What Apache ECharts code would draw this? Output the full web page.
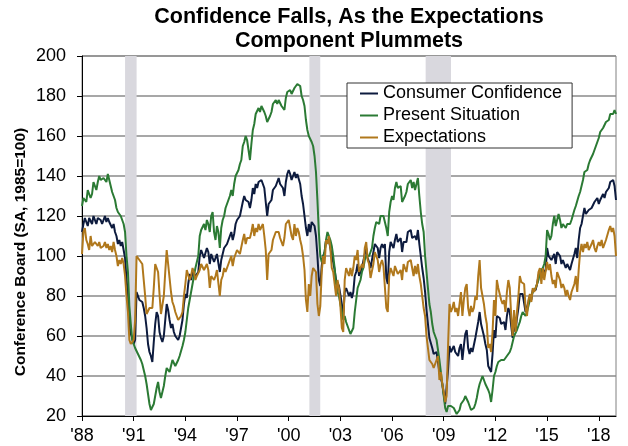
<!DOCTYPE html>
<html>
<head>
<meta charset="utf-8">
<script src="https://cdn.jsdelivr.net/npm/echarts@6/dist/echarts.min.js"></script>
<style>
  html, body { margin: 0; padding: 0; background: #fff; }
  #chart { width: 628px; height: 446px; }
</style>
</head>
<body>
<div id="chart"></div>
<script>
"use strict";

// Monthly Conference Board indexes, Jan 1988 .. Jan 2019 (SA, 1985=100)
const startYear = 1988;
const tickYears = [1988, 1991, 1994, 1997, 2000, 2003, 2006, 2009, 2012, 2015, 2018];
const recessions = [[1990.5, 1991.17], [2001.2, 2001.83], [2007.95, 2009.42]];
const seriesNames = ["Consumer Confidence", "Present Situation", "Expectations"];

const consumerConfidence = [
  112, 116, 119, 120, 115, 119, 118, 116, 120, 118, 116, 119, // 1988
  120, 118, 116, 118, 120, 117, 119, 117, 116, 114, 116, 112, // 1989
  110, 106, 108, 105, 107, 103, 99, 88, 82, 65, 61, 59,       // 1990
  56, 58, 82, 80, 78, 79, 77, 74, 70, 64, 56, 52,             // 1991
  50, 47, 57, 66, 72, 70, 62, 59, 57, 60, 68, 76,             // 1992
  73, 68, 64, 66, 62, 60, 59, 58, 60, 61, 68, 76,             // 1993
  81, 79, 86, 91, 88, 92, 92, 90, 91, 92, 100, 103,           // 1994
  101, 99, 100, 104, 102, 96, 101, 102, 97, 96, 101, 100,     // 1995
  92, 98, 98, 104, 103, 106, 108, 110, 112, 108, 111, 116,    // 1996
  118, 119, 120, 121, 127, 130, 128, 128, 127, 124, 128, 134, // 1997
  131, 136, 134, 137, 136, 138, 137, 134, 127, 120, 126, 127, // 1998
  128, 133, 134, 135, 137, 139, 136, 136, 134, 130, 137, 141, // 1999
  143, 141, 138, 140, 142, 139, 141, 140, 136, 130, 126, 120, // 2000
  114, 110, 116, 112, 117, 118, 115, 110, 100, 88, 85, 95,    // 2001
  100, 102, 108, 107, 108, 104, 100, 97, 93, 88, 88, 85,      // 2002
  84, 76, 70, 82, 84, 84, 80, 82, 79, 82, 90, 92,             // 2003
  96, 90, 90, 94, 94, 101, 104, 99, 97, 94, 94, 102,          // 2004
  106, 105, 104, 99, 104, 106, 104, 106, 89, 86, 102, 107,    // 2005
  108, 104, 108, 111, 107, 107, 109, 102, 107, 107, 107, 112, // 2006
  111, 113, 109, 108, 110, 108, 113, 106, 100, 94, 89, 82,    // 2007
  73, 66, 59, 58, 54, 51, 52, 52, 53, 42, 42, 36,             // 2008
  31, 26, 27, 43, 55, 52, 53, 55, 52, 52, 50, 54,             // 2009
  56, 48, 55, 61, 63, 54, 51, 54, 52, 53, 59, 58,             // 2010
  67, 72, 66, 67, 60, 56, 53, 45, 46, 42, 51, 63,             // 2011
  59, 70, 69, 69, 66, 65, 67, 63, 70, 74, 72, 65,             // 2012
  59, 68, 62, 69, 74, 81, 81, 81, 80, 72, 71, 77,             // 2013
  80, 78, 83, 82, 83, 86, 90, 93, 89, 94, 91, 93,             // 2014
  104, 100, 101, 98, 98, 101, 96, 102, 102, 100, 96, 98,      // 2015
  97, 94, 96, 95, 93, 96, 96, 101, 104, 99, 108, 114,         // 2016
  116, 120, 124, 121, 120, 123, 122, 124, 125, 127, 128, 129, // 2017
  126, 128, 127, 131, 129, 132, 131, 134, 137, 136, 138, 135, // 2018
  128                                                         // 2019
];

const presentSituation = [
  125, 129, 130, 127, 133, 134, 129, 131, 137, 135, 133, 137, // 1988
  140, 138, 137, 139, 140, 137, 141, 138, 135, 132, 130, 128, // 1989
  124, 122, 123, 120, 119, 116, 112, 100, 92, 75, 66, 58,     // 1990
  56, 54, 53, 51, 50, 48, 46, 43, 40, 36, 31, 26,             // 1991
  23, 22, 26, 30, 34, 37, 32, 29, 32, 35, 40, 44,             // 1992
  43, 42, 45, 48, 47, 45, 46, 48, 50, 51, 55, 58,             // 1993
  62, 68, 74, 78, 82, 86, 90, 94, 97, 100, 110, 113,          // 1994
  114, 116, 113, 118, 116, 112, 120, 122, 112, 108, 115, 112, // 1995
  104, 114, 118, 120, 124, 126, 128, 130, 133, 130, 136, 140, // 1996
  141, 143, 146, 148, 155, 157, 160, 158, 157, 148, 156, 163, // 1997
  166, 171, 170, 174, 172, 175, 174, 172, 170, 167, 168, 170, // 1998
  172, 176, 177, 178, 176, 178, 177, 175, 174, 173, 179, 182, // 1999
  182, 183, 181, 182, 184, 183, 186, 187, 185, 180, 178, 175, // 2000
  168, 163, 160, 160, 157, 155, 150, 142, 128, 112, 100, 97,  // 2001
  98, 102, 108, 112, 111, 108, 105, 100, 94, 86, 82, 80,      // 2002
  80, 72, 68, 70, 67, 65, 63, 61, 60, 64, 72, 78,             // 2003
  84, 86, 88, 92, 94, 98, 100, 101, 100, 102, 104, 110,       // 2004
  114, 117, 118, 116, 120, 121, 120, 121, 114, 110, 122, 127, // 2005
  130, 128, 134, 137, 134, 133, 135, 127, 126, 130, 132, 136, // 2006
  136, 138, 134, 137, 133, 136, 139, 130, 122, 116, 112, 100, // 2007
  92, 84, 76, 72, 66, 62, 60, 58, 57, 48, 42, 36,             // 2008
  30, 24, 22, 25, 26, 25, 24, 24, 23, 21, 21, 23,             // 2009
  26, 25, 28, 30, 29, 27, 25, 23, 23, 24, 26, 29,             // 2010
  33, 36, 38, 40, 38, 36, 37, 33, 31, 27, 33, 40,             // 2011
  42, 45, 47, 47, 48, 47, 48, 48, 50, 51, 52, 54,             // 2012
  57, 60, 61, 63, 65, 67, 70, 72, 72, 70, 72, 75,             // 2013
  78, 80, 82, 83, 84, 86, 88, 92, 93, 94, 96, 100,            // 2014
  113, 111, 108, 110, 116, 120, 115, 118, 121, 118, 114, 116, // 2015
  116, 114, 116, 117, 116, 118, 118, 123, 125, 124, 130, 132, // 2016
  133, 138, 142, 141, 143, 146, 148, 149, 151, 153, 155, 157, // 2017
  159, 162, 161, 164, 163, 167, 166, 168, 171, 172, 171, 173, // 2018
  171                                                         // 2019
];

const expectations = [
  101, 112, 114, 108, 106, 103, 110, 105, 104, 107, 106, 105, // 1988
  107, 104, 103, 105, 107, 104, 106, 103, 105, 102, 107, 103, // 1989
  100, 95, 98, 96, 99, 96, 90, 80, 72, 58, 56, 57,            // 1990
  58, 68, 100, 100, 98, 99, 96, 88, 80, 71, 72, 74,           // 1991
  74, 74, 84, 96, 97, 92, 81, 71, 72, 80, 92, 103,            // 1992
  96, 89, 82, 77, 75, 72, 70, 68, 67, 70, 72, 80,             // 1993
  86, 93, 92, 88, 90, 94, 92, 88, 90, 91, 93, 96,             // 1994
  95, 93, 92, 96, 93, 84, 90, 90, 88, 90, 93, 92,             // 1995
  80, 88, 90, 94, 92, 92, 96, 97, 100, 95, 99, 100,           // 1996
  103, 102, 101, 102, 108, 111, 106, 109, 110, 109, 112, 116, // 1997
  110, 114, 112, 116, 113, 114, 116, 110, 103, 88, 101, 100,  // 1998
  103, 108, 110, 112, 113, 112, 109, 107, 105, 109, 116, 115, // 1999
  118, 114, 110, 108, 116, 110, 114, 112, 108, 105, 100, 93,  // 2000
  78, 72, 86, 80, 90, 94, 93, 92, 76, 70, 75, 92,             // 2001
  100, 96, 108, 106, 110, 104, 94, 92, 93, 80, 88, 84,        // 2002
  75, 64, 62, 88, 94, 95, 90, 94, 90, 94, 100, 98,            // 2003
  103, 92, 92, 96, 94, 104, 107, 98, 96, 89, 88, 96,          // 2004
  102, 100, 98, 92, 96, 98, 95, 96, 74, 72, 90, 94,           // 2005
  94, 90, 95, 96, 91, 92, 93, 88, 96, 94, 92, 97,             // 2006
  97, 98, 94, 90, 95, 91, 96, 90, 86, 80, 74, 70,             // 2007
  60, 54, 48, 48, 46, 44, 46, 48, 50, 38, 42, 36,             // 2008
  32, 27, 30, 55, 76, 72, 74, 77, 72, 74, 70, 76,             // 2009
  82, 70, 78, 84, 86, 74, 70, 75, 72, 74, 80, 78,             // 2010
  90, 98, 84, 85, 76, 70, 66, 54, 56, 52, 62, 78,             // 2011
  70, 88, 84, 84, 78, 76, 78, 72, 82, 88, 84, 70,             // 2012
  60, 73, 62, 72, 80, 90, 87, 86, 86, 74, 70, 78,             // 2013
  81, 77, 84, 82, 82, 86, 92, 94, 86, 94, 88, 88,             // 2014
  97, 93, 96, 90, 86, 88, 84, 92, 90, 88, 84, 86,             // 2015
  84, 80, 83, 80, 78, 82, 82, 86, 90, 82, 93, 102,            // 2016
  106, 102, 106, 104, 107, 103, 104, 106, 108, 104, 102, 105, // 2017
  107, 105, 108, 104, 106, 108, 107, 113, 115, 112, 114, 110, // 2018
  100                                                         // 2019
];

const seriesColors = ["#0d1b3e", "#2b7a34", "#b0781c"];
const font = "'Liberation Sans', Arial, Helvetica, sans-serif";

// x is years since Jan 1988, one point per month
function toPoints(values) {
  return values.map((v, i) => [i / 12, v]);
}

const chart = echarts.init(document.getElementById("chart"));

const lineSeries = [consumerConfidence, presentSituation, expectations].map((vals, k) => ({
  name: seriesNames[k],
  type: "line",
  data: toPoints(vals),
  symbol: "none",
  z: 3,
  lineStyle: { width: 2, color: seriesColors[k] },
  itemStyle: { color: seriesColors[k] }
}));

const option = {
  animation: false,
  backgroundColor: "#fff",
  textStyle: { fontFamily: font },
  title: {
    text: "Confidence Falls, As the Expectations\nComponent Plummets",
    left: 349,
    top: 5,
    padding: 0,
    textAlign: "center",
    textStyle: { fontSize: 21.5, fontWeight: "bold", lineHeight: 24, color: "#000", fontFamily: font }
  },
  legend: {
    orient: "vertical",
    left: 347,
    top: 83,
    data: seriesNames,
    icon: "rect",
    itemWidth: 18,
    itemHeight: 2,
    itemGap: 3,
    padding: [1, 10, 1, 13],
    borderColor: "#333",
    borderWidth: 1,
    backgroundColor: "#fff",
    selectedMode: false,
    textStyle: { fontSize: 18, color: "#000", lineHeight: 19, fontFamily: font }
  },
  grid: {
    left: 82, right: 12, top: 56, bottom: 30,
    show: true, borderColor: "#808080", borderWidth: 1
  },
  graphic: [{
    type: "text",
    x: 21,
    y: 252,
    rotation: Math.PI / 2,
    style: {
      text: "Conference Board (SA, 1985=100)",
      fill: "#000",
      fontSize: 15.5,
      fontWeight: "bold",
      fontFamily: font,
      align: "center",
      verticalAlign: "middle"
    }
  }],
  xAxis: {
    type: "value",
    min: 0,
    max: 31,
    axisLine: { lineStyle: { color: "#000", width: 1 } },
    axisTick: {
      customValues: tickYears.map(y => y - startYear),
      length: 5,
      lineStyle: { color: "#000" }
    },
    axisLabel: {
      customValues: tickYears.map(y => y - startYear),
      formatter: v => "'" + String((startYear + Math.round(v)) % 100).padStart(2, "0"),
      fontSize: 18,
      color: "#000",
      margin: 11,
      fontFamily: font
    },
    splitLine: { show: false }
  },
  yAxis: {
    type: "value",
    min: 20,
    max: 200,
    interval: 20,
    axisLine: { show: true, lineStyle: { color: "#000", width: 1 } },
    axisTick: { show: true, length: 5, lineStyle: { color: "#000" } },
    axisLabel: { fontSize: 18, color: "#000", margin: 16, fontFamily: font },
    splitLine: { lineStyle: { color: "#8a8a8a", width: 1.5 } }
  },
  series: [
    {
      name: "Recessions",
      type: "line",
      data: [],
      z: 1,
      silent: true,
      markArea: {
        silent: true,
        itemStyle: { color: "#d9d8de" },
        data: recessions.map(r => [{ xAxis: r[0] - startYear }, { xAxis: r[1] - startYear }])
      }
    }
  ].concat(lineSeries)
};

chart.setOption(option);
</script>
</body>
</html>
